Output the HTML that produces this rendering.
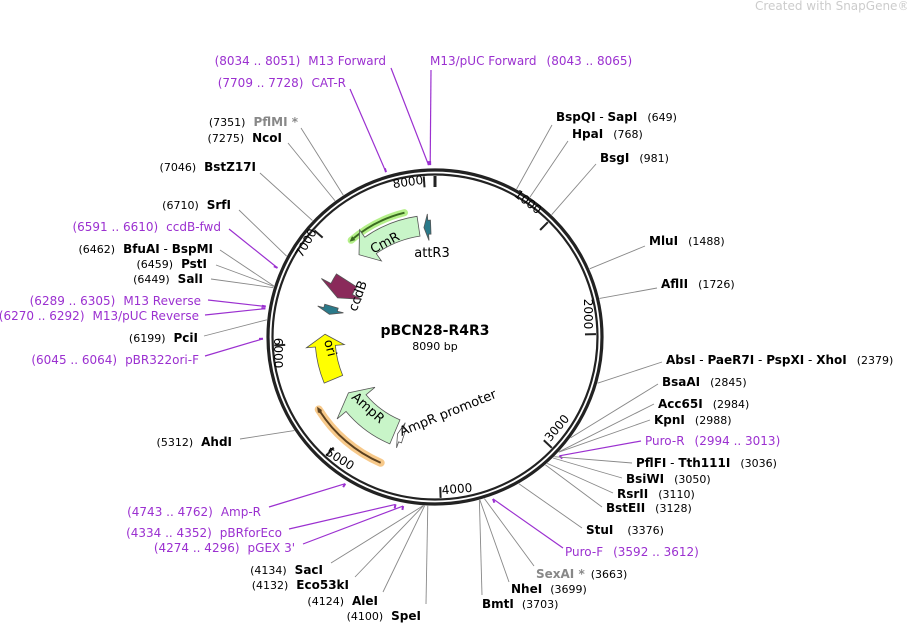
<!DOCTYPE html>
<html><head><meta charset="utf-8"><style>
html,body{margin:0;padding:0;background:#fff;}
svg{display:block;font-family:"DejaVu Sans","Liberation Sans",sans-serif;}
.e{font-size:12px;fill:#000}
.b{font-weight:bold}
.n{font-size:11px}
.p{fill:#9b30d0;font-size:12px}
.g{fill:#888}
</style></head><body>
<svg id="s" width="907" height="624" viewBox="0 0 907 624" xmlns="http://www.w3.org/2000/svg">
<text x="755" y="10" font-size="12" fill="#ccc">Created with SnapGene®</text>
<g id="lines"></g>
<circle cx="435" cy="337" r="167" fill="none" stroke="#222" stroke-width="3.2"/>
<circle cx="435" cy="337" r="162.5" fill="none" stroke="#222" stroke-width="2.2"/>
<g id="ticks"></g>
<g id="feat"></g>
<text x="435" y="335" text-anchor="middle" font-size="14" font-weight="bold">pBCN28-R4R3</text>
<text x="435" y="350" text-anchor="middle" font-size="11">8090 bp</text>
<g id="labels" class="e"></g>
</svg>
<script>
const cx=435,cy=337,N=8090,NS="http://www.w3.org/2000/svg";
function ang(bp){return bp/N*2*Math.PI;}
function pt(bp,r){const a=ang(bp);return [cx+r*Math.sin(a),cy-r*Math.cos(a)];}
function el(tag,attrs,parent,html){const e=document.createElementNS(NS,tag);for(const k in attrs)e.setAttribute(k,attrs[k]);if(html!==undefined)e.innerHTML=html;document.getElementById(parent).appendChild(e);return e;}
for(let i=0;i<=8;i++){const bp=i*1000;const a=pt(bp,161),b=pt(bp,150);el('line',{x1:a[0],y1:a[1],x2:b[0],y2:b[1],stroke:'#222','stroke-width':i==0?3:2},'ticks');}
const tl=[["8000",408,186,-8],["1000",528,206,38],["2000",588,318,90],["3000",557,432,-50],["4000",457,493,-5],["5000",340,463,32],["6000",278,357,90],["7000",306,247,-60]];
tl.forEach(t=>el('text',{x:t[1],y:t[2],'font-size':12,'text-anchor':'middle',transform:`rotate(${t[3]} ${t[1]} ${t[2]-4})`},'ticks',t[0]));
const L=[
['<tspan class="b">BspQI</tspan> - <tspan class="b">SapI</tspan><tspan class="n" dx="10">(649)</tspan>',556,121,'start',552,125,649],
['<tspan class="b">HpaI</tspan><tspan class="n" dx="10">(768)</tspan>',572,138,'start',568,141,768],
['<tspan class="b">BsgI</tspan><tspan class="n" dx="10">(981)</tspan>',600,162,'start',596,164,981],
['<tspan class="b">MluI</tspan><tspan class="n" dx="10">(1488)</tspan>',649,245,'start',645,246,1488],
['<tspan class="b">AflII</tspan><tspan class="n" dx="10">(1726)</tspan>',661,288,'start',657,288,1726],
['<tspan class="b">AbsI</tspan>  - <tspan class="b">PaeR7I</tspan> - <tspan class="b">PspXI</tspan> - <tspan class="b">XhoI</tspan><tspan class="n" dx="10">(2379)</tspan>',666,364,'start',662,362,2379],
['<tspan class="b">BsaAI</tspan><tspan class="n" dx="10">(2845)</tspan>',662,386,'start',658,384,2845],
['<tspan class="b">Acc65I</tspan><tspan class="n" dx="10">(2984)</tspan>',658,408,'start',654,404,2984],
['<tspan class="b">KpnI</tspan><tspan class="n" dx="10">(2988)</tspan>',654,424,'start',650,420,2988],
['<tspan class="p">Puro-R</tspan><tspan class="p n" dx="10">(2994 .. 3013)</tspan>',645,445,'start',641,441,3004,1],
['<tspan class="b">PflFI</tspan> - <tspan class="b">Tth111I</tspan><tspan class="n" dx="10">(3036)</tspan>',636,467,'start',632,463,3036],
['<tspan class="b">BsiWI</tspan><tspan class="n" dx="10">(3050)</tspan>',626,483,'start',622,478,3050],
['<tspan class="b">RsrII</tspan><tspan class="n" dx="10">(3110)</tspan>',617,498,'start',613,493,3110],
['<tspan class="b">BstEII</tspan><tspan class="n" dx="10">(3128)</tspan>',606,512,'start',602,507,3128],
['<tspan class="b">StuI</tspan><tspan class="n" dx="14">(3376)</tspan>',586,534,'start',582,528,3376],
['<tspan class="p">Puro-F</tspan><tspan class="p n" dx="10">(3592 .. 3612)</tspan>',565,556,'start',563,548,3602,1],
['<tspan class="b g">SexAI *</tspan><tspan class="n" dx="6">(3663)</tspan>',536,578,'start',534,566,3663],
['<tspan class="b">NheI</tspan><tspan class="n" dx="8">(3699)</tspan>',511,593,'start',509,582,3699],
['<tspan class="b">BmtI</tspan><tspan class="n" dx="8">(3703)</tspan>',482,608,'start',482,595,3703],
['<tspan class="n">(4100)</tspan><tspan class="b" dx="8">SpeI</tspan>',421,620,'end',426,604,4100],
['<tspan class="n">(4124)</tspan><tspan class="b" dx="8">AleI</tspan>',378,605,'end',383,592,4124],
['<tspan class="n">(4132)</tspan><tspan class="b" dx="8">Eco53kI</tspan>',349,589,'end',355,577,4132],
['<tspan class="n">(4134)</tspan><tspan class="b" dx="8">SacI</tspan>',323,574,'end',331,563,4134],
['<tspan class="p n">(4274 .. 4296)</tspan><tspan class="p" dx="8">pGEX 3\'</tspan>',295,552,'end',303,544,4285,1],
['<tspan class="p n">(4334 .. 4352)</tspan><tspan class="p" dx="8">pBRforEco</tspan>',282,537,'end',289,529,4343,1],
['<tspan class="p n">(4743 .. 4762)</tspan><tspan class="p" dx="8">Amp-R</tspan>',261,516,'end',269,507,4752,1],
['<tspan class="n">(5312)</tspan><tspan class="b" dx="8">AhdI</tspan>',232,446,'end',240,439,5312],
['<tspan class="p n">(6045 .. 6064)</tspan><tspan class="p" dx="8">pBR322ori-F</tspan>',199,364,'end',205,356,6054,1],
['<tspan class="n">(6199)</tspan><tspan class="b" dx="8">PciI</tspan>',198,342,'end',204,336,6199],
['<tspan class="p n">(6270 .. 6292)</tspan><tspan class="p" dx="8">M13/pUC Reverse</tspan>',199,320,'end',205,315,6281,1],
['<tspan class="p n">(6289 .. 6305)</tspan><tspan class="p" dx="8">M13 Reverse</tspan>',201,305,'end',208,300,6297,1],
['<tspan class="n">(6449)</tspan><tspan class="b" dx="8">SalI</tspan>',203,283,'end',211,279,6449],
['<tspan class="n">(6459)</tspan><tspan class="b" dx="8">PstI</tspan>',207,268,'end',216,265,6459],
['<tspan class="n">(6462)</tspan><tspan class="b" dx="8">BfuAI</tspan> - <tspan class="b">BspMI</tspan>',213,253,'end',220,250,6462],
['<tspan class="p n">(6591 .. 6610)</tspan><tspan class="p" dx="8">ccdB-fwd</tspan>',221,231,'end',229,229,6600,1],
['<tspan class="n">(6710)</tspan><tspan class="b" dx="8">SrfI</tspan>',231,209,'end',239,210,6710],
['<tspan class="n">(7046)</tspan><tspan class="b" dx="8">BstZ17I</tspan>',256,171,'end',260,173,7046],
['<tspan class="n">(7275)</tspan><tspan class="b" dx="8">NcoI</tspan>',282,142,'end',288,143,7275],
['<tspan class="n">(7351)</tspan><tspan class="b g" dx="8">PflMI *</tspan>',298,126,'end',301,128,7351],
['<tspan class="p n">(7709 .. 7728)</tspan><tspan class="p" dx="8">CAT-R</tspan>',346,87,'end',350,89,7718,1],
['<tspan class="p n">(8034 .. 8051)</tspan><tspan class="p" dx="8">M13 Forward</tspan>',386,65,'end',391,68,8042,1],
['<tspan class="p">M13/pUC Forward</tspan><tspan class="p n" dx="10">(8043 .. 8065)</tspan>',430,65,'start',431,70,8054,1],
];
L.forEach(l=>{
 el('text',{x:l[1],y:l[2],'text-anchor':l[3]},'labels',l[0]);
 const p=pt(l[6],l[7]?172:169);
 el('line',{x1:l[4],y1:l[5],x2:p[0],y2:p[1],stroke:l[7]?'#9b30d0':'#888','stroke-width':l[7]?1.2:0.9},'lines');
 if(l[7]){const c=pt(l[6],176);el('line',{x1:p[0],y1:p[1],x2:c[0],y2:c[1],stroke:'#9b30d0','stroke-width':2},'lines');}
});
function arcPath(r,b1,b2){const a=pt(b1,r),b=pt(b2,r);const large=Math.abs(b2-b1)>N/2?1:0;const sw=b2>b1?1:0;return `M${a[0]},${a[1]} A${r},${r} 0 ${large} ${sw} ${b[0]},${b[1]}`;}
function arrow(r,w,from,to,head,fill,stroke){
 const dir=to>from?1:-1;const hb=to-dir*head;const ri=r-w/2,ro=r+w/2;
 const p1=pt(from,ro),p2=pt(hb,ro),p3=pt(hb,ro+w*0.45),tip=pt(to,r),p4=pt(hb,ri-w*0.45),p5=pt(hb,ri),p6=pt(from,ri);
 const sw=dir>0?1:0;
 const d=`M${p1} A${ro},${ro} 0 0 ${sw} ${p2} L${p3} L${tip} L${p4} L${p5} A${ri},${ri} 0 0 ${1-sw} ${p6} Z`;
 el('path',{d:d,fill:fill,stroke:stroke||'#555','stroke-width':0.8},'feat');
}
el('path',{d:arcPath(128,7780,7170),fill:'none',stroke:'#b5f08a','stroke-width':7,'stroke-linecap':'round'},'feat');
el('path',{d:arcPath(128,7780,7190),fill:'none',stroke:'#3a6a20','stroke-width':2},'feat');
arrow(128,2,7200,7160,40,'#3a6a20','#3a6a20');
el('path',{d:arcPath(137,4570,5350),fill:'none',stroke:'#f7c98a','stroke-width':8,'stroke-linecap':'round'},'feat');
el('path',{d:arcPath(137,4570,5330),fill:'none',stroke:'#5a4020','stroke-width':2},'feat');
arrow(137,2,5320,5370,40,'#5a4020','#5a4020');
arrow(112,20,7900,7130,170,'#c8f5c8');
arrow(110,14,8040,7960,50,'#2a7a8a');
arrow(105,24,6800,6560,120,'#8a2a5a');
arrow(108,14,6440,6340,60,'#2a7a8a');
arrow(110,20,5560,6100,140,'#ffff00');
arrow(103,26,4560,5330,160,'#c8f5c8');
arrow(104,14,4440,4520,45,'#fff');
const IL=[["CmR",385,247,-28,13],["attR3",432,257,0,13],["ccdB",358,300,-70,13],["ori",330,352,75,13],["AmpR",368,412,42,13]];
IL.forEach(t=>el('text',{x:t[1],y:t[2],'font-size':t[4],'text-anchor':'middle',transform:`rotate(${t[3]} ${t[1]} ${t[2]-4})`},'feat',t[0]));
el('text',{x:448,y:417,'font-size':13,'text-anchor':'middle',transform:'rotate(-22 448 413)'},'feat','AmpR promoter');
</script>
</body></html>
